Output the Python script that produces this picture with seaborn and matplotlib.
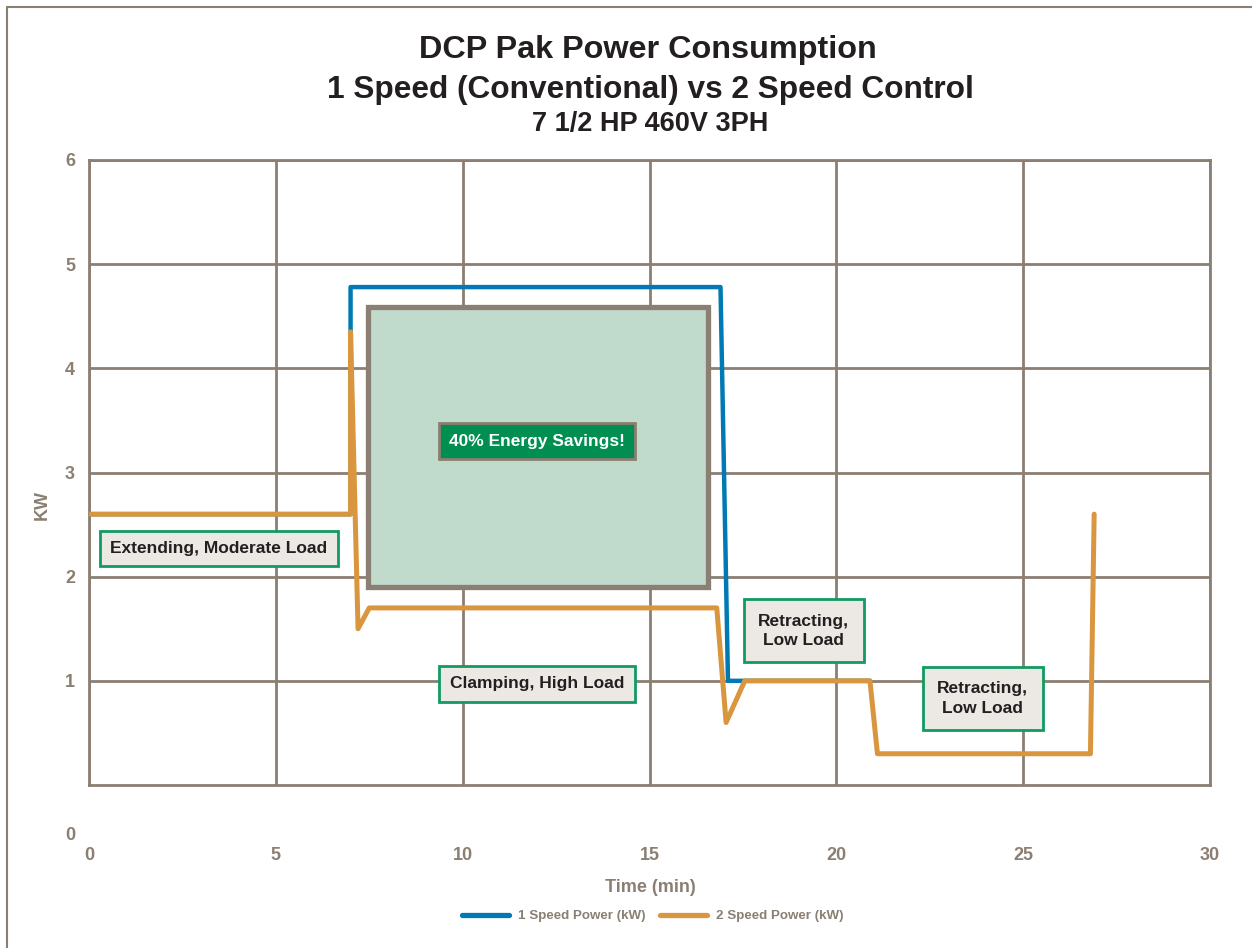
import pandas as pd
import matplotlib
matplotlib.use('Agg')
import matplotlib.pyplot as plt
import seaborn as sns
from matplotlib.patches import Rectangle
from matplotlib.lines import Line2D

# values
one_speed_t = [0, 7.0, 7.0, 16.9, 17.1, 20.9]
one_speed_kw = [2.6, 2.6, 4.78, 4.78, 1.0, 1.0]
two_speed_t = [0, 7.0, 7.0, 7.2, 7.5, 16.8, 17.05, 17.55, 20.9, 21.1, 26.8, 26.9]
two_speed_kw = [2.6, 2.6, 4.35, 1.5, 1.7, 1.7, 0.6, 1.0, 1.0, 0.3, 0.3, 2.6]
x_ticks = [0, 5, 10, 15, 20, 25, 30]
y_ticks = [1, 2, 3, 4, 5, 6]

GRAY = '#8a7f72'
BLUE = '#0079b4'
ORANGE = '#d9963f'
GREEN = '#119a62'
DARK = '#231f20'

sns.set_theme(style='white')
plt.rcParams['font.family'] = ['Liberation Sans', 'DejaVu Sans']

fig = plt.figure(figsize=(12.52, 9.48), dpi=100)
ax = fig.add_axes([89 / 1252, 1 - 785 / 948, (1210 - 89) / 1252, (785 - 160) / 948])

df1 = pd.DataFrame({'t': one_speed_t, 'kw': one_speed_kw})
df2 = pd.DataFrame({'t': two_speed_t, 'kw': two_speed_kw})
sns.lineplot(data=df1, x='t', y='kw', sort=False, estimator=None, color=BLUE, lw=3.2, ax=ax, zorder=4)
sns.lineplot(data=df2, x='t', y='kw', sort=False, estimator=None, color=ORANGE, lw=3.6, ax=ax, zorder=5)

ax.set_xlim(0, 30)
ax.set_ylim(0, 6)
ax.set_xticks(x_ticks)
ax.set_yticks(y_ticks)
ax.grid(True, color=GRAY, lw=2)
ax.set_axisbelow(True)
for s in ax.spines.values():
    s.set_color(GRAY)
    s.set_linewidth(2)
ax.tick_params(axis='x', length=0, pad=45, labelsize=13, labelcolor=GRAY)
ax.tick_params(axis='y', length=0, pad=10, labelsize=13, labelcolor=GRAY)
for lab in ax.get_xticklabels() + ax.get_yticklabels():
    lab.set_fontweight('bold')
ax.set_xlabel('')
ax.set_ylabel('')

# savings box
ax.add_patch(Rectangle((7.47, 1.90), 9.09, 2.69, facecolor='#c0dacb', edgecolor=GRAY, lw=3.8, zorder=3))
ax.text(11.99, 3.30, '40% Energy Savings!', ha='center', va='center', color='white', fontsize=12.5,
        fontweight='bold', zorder=6,
        bbox=dict(boxstyle='square,pad=0.6', facecolor='#008f51', edgecolor=GRAY, lw=2))

box = dict(boxstyle='square,pad=0.6', facecolor='#ece9e5', edgecolor=GREEN, lw=2)
box2 = dict(boxstyle='square,pad=0.82', facecolor='#ece9e5', edgecolor=GREEN, lw=2)
ax.text(3.48, 2.27, 'Extending, Moderate Load', ha='center', va='center', fontsize=12.5, fontweight='bold',
        color=DARK, bbox=box, zorder=6)
ax.text(11.99, 0.97, 'Clamping, High Load', ha='center', va='center', fontsize=12.5, fontweight='bold',
        color=DARK, bbox=box, zorder=6)
ax.text(19.13, 1.48, 'Retracting,\nLow Load', ha='center', va='center', fontsize=12.5, fontweight='bold',
        color=DARK, bbox=box2, zorder=6, linespacing=1.35)
ax.text(23.92, 0.83, 'Retracting,\nLow Load', ha='center', va='center', fontsize=12.5, fontweight='bold',
        color=DARK, bbox=box2, zorder=6, linespacing=1.35)

# odd offset zero label on the y axis
fig.text(75 / 1252, 1 - 836 / 948, '0', ha='right', va='center', fontsize=13, fontweight='bold', color=GRAY)

# titles and axis labels
fig.text(648 / 1252, 1 - 50 / 948, 'DCP Pak Power Consumption', ha='center', va='center',
         fontsize=23.3, fontweight='bold', color=DARK)
fig.text(650 / 1252, 1 - 90 / 948, '1 Speed (Conventional) vs 2 Speed Control', ha='center', va='center',
         fontsize=22.8, fontweight='bold', color=DARK)
fig.text(650 / 1252, 1 - 124 / 948, '7 1/2 HP 460V 3PH', ha='center', va='center',
         fontsize=19.5, fontweight='bold', color=DARK)
fig.text(42 / 1252, 1 - 505 / 948, 'KW', rotation=90, ha='center', va='center',
         fontsize=13, fontweight='bold', color=GRAY)
fig.text(650 / 1252, 1 - 887 / 948, 'Time (min)', ha='center', va='center',
         fontsize=13, fontweight='bold', color=GRAY)

handles = [Line2D([], [], color=BLUE, lw=3.8), Line2D([], [], color=ORANGE, lw=3.8)]
leg = fig.legend(handles, ['1 Speed Power (kW)', '2 Speed Power (kW)'], loc='center',
                 bbox_to_anchor=(653 / 1252, 1 - 916 / 948), ncol=2, frameon=False,
                 prop={'size': 9.6, 'weight': 'bold'}, handlelength=3.5, columnspacing=1.1, handletextpad=0.7)
for t in leg.get_texts():
    t.set_color(GRAY)

# page border
fig.add_artist(Line2D([7 / 1252, 1], [1 - 7 / 948, 1 - 7 / 948], color=GRAY, lw=1.5))
fig.add_artist(Line2D([7 / 1252, 7 / 1252], [0, 1 - 7 / 948], color=GRAY, lw=1.5))

fig.savefig('out.png', dpi=100)
